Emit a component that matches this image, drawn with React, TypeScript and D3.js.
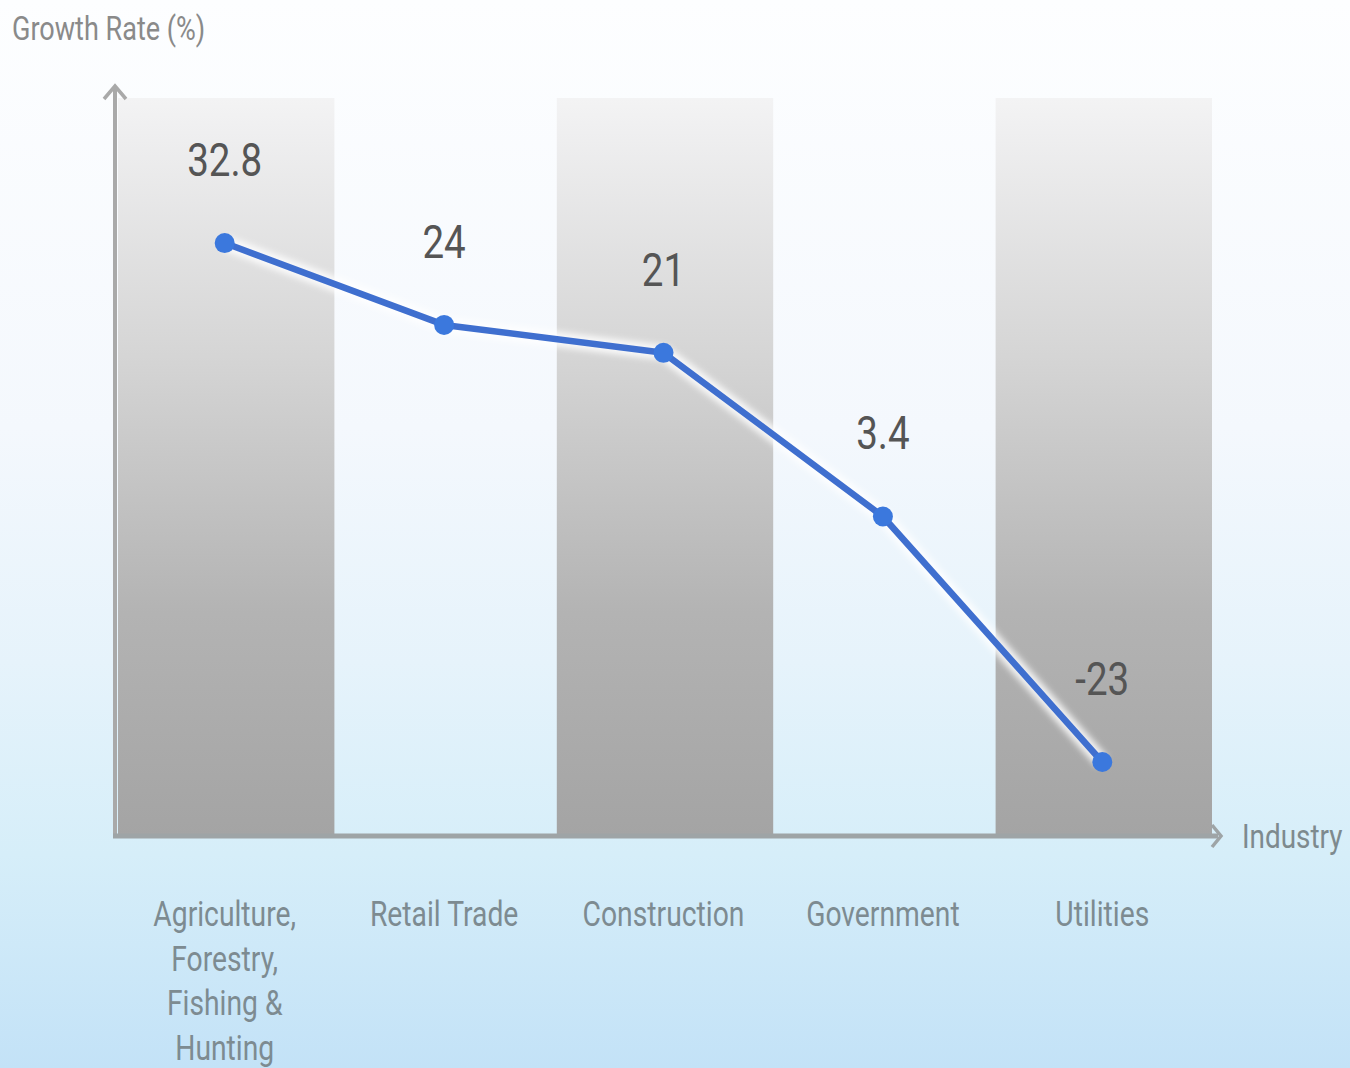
import React from "react";
import * as d3 from "d3";

const categories: string[][] = [
  ["Agriculture,", "Forestry,", "Fishing &", "Hunting"],
  ["Retail Trade"],
  ["Construction"],
  ["Government"],
  ["Utilities"],
];
const growthRates: number[] = [32.8, 24, 21, 3.4, -23];
const valueLabels: string[] = ["32.8", "24", "21", "3.4", "-23"];
const yAxisTitle = "Growth Rate (%)";
const xAxisTitle = "Industry";

const W = 1350;
const H = 1068;
const FONT = "Roboto, 'Liberation Sans', sans-serif";
const SX = 0.82;

function CText(props: {
  x: number;
  y: number;
  size: number;
  fill: string;
  anchor?: "start" | "middle" | "end";
  dy?: string;
  children: React.ReactNode;
}) {
  const { x, y, size, fill, anchor = "start", dy, children } = props;
  return (
    <g transform={`translate(${x},${y}) scale(${SX},1)`}>
      <text
        x={0}
        y={0}
        dy={dy}
        textAnchor={anchor}
        fontFamily={FONT}
        fontSize={size}
        fill={fill}
      >
        {children}
      </text>
    </g>
  );
}

export default function App() {
  const keys = categories.map((c) => c.join(" "));
  const x = d3.scaleBand<string>().domain(keys).range([115, 1212]).padding(0);
  const y = d3.scaleLinear().domain([-30.85, 48.4]).range([835, 98]);
  const bw = x.bandwidth();

  const pts: [number, number][] = growthRates.map((v, i) => [
    (x(keys[i]) as number) + bw / 2,
    y(v),
  ]);
  const line = d3.line<[number, number]>()(pts) as string;
  const [yTop, yBottom] = [y(y.domain()[1]), y(y.domain()[0])];

  return (
    <svg
      width={W}
      height={H}
      style={{ position: "absolute", left: 0, top: 0, display: "block" }}
    >
      <defs>
        <linearGradient id="bg" x1="0" y1="0" x2="0" y2="1">
          <stop offset="0%" stopColor="#fdfeff" />
          <stop offset="40%" stopColor="#f4f8fd" />
          <stop offset="62%" stopColor="#e6f3fb" />
          <stop offset="80%" stopColor="#d6eef9" />
          <stop offset="100%" stopColor="#c3e2f7" />
        </linearGradient>
        <linearGradient id="bar" x1="0" y1="0" x2="0" y2="1">
          <stop offset="0%" stopColor="#f3f3f4" />
          <stop offset="35%" stopColor="#d5d5d5" />
          <stop offset="70%" stopColor="#b3b3b3" />
          <stop offset="100%" stopColor="#a4a4a4" />
        </linearGradient>
        <filter id="glow" x="-10%" y="-10%" width="120%" height="120%">
          <feGaussianBlur stdDeviation="3" />
        </filter>
      </defs>
      <rect x={0} y={0} width={W} height={H} fill="url(#bg)" />

      {/* alternating background columns */}
      {keys.map((k, i) =>
        i % 2 === 0 ? (
          <rect
            key={k}
            x={(x(k) as number) + 3}
            y={yTop}
            width={bw - 3}
            height={yBottom - yTop}
            fill="url(#bar)"
          />
        ) : null
      )}

      {/* axes */}
      <line x1={115} y1={yBottom + 3} x2={115} y2={86} stroke="#a9a9a9" strokeWidth={4} />
      <path d="M104,99 L115,86 L126,99" fill="none" stroke="#a9a9a9" strokeWidth={3.5} />
      <line x1={113} y1={yBottom + 1} x2={1218} y2={yBottom + 1} stroke="#9ea4a6" strokeWidth={5} />
      <path d="M1212,825 L1221,836 L1212,847" fill="none" stroke="#9ea4a6" strokeWidth={3.5} />

      <CText x={12} y={40} size={33} fill="#8a8a8a">
        {yAxisTitle}
      </CText>
      <CText x={1242} y={848} size={34} fill="#7e8a8e">
        {xAxisTitle}
      </CText>

      {/* line */}
      <path d={line} fill="none" stroke="#ffffff" strokeOpacity={0.85} strokeWidth={15} filter="url(#glow)" />
      <path d={line} fill="none" stroke="#3f6fcf" strokeWidth={6.5} strokeLinejoin="round" />
      {pts.map(([px, py], i) => (
        <circle key={i} cx={px} cy={py} r={10} fill="#3b78dd" />
      ))}

      {/* value labels */}
      {pts.map(([px, py], i) => (
        <CText key={i} x={px} y={py - 84} dy="0.36em" anchor="middle" size={47} fill="#555555">
          {valueLabels[i]}
        </CText>
      ))}

      {/* category labels */}
      {categories.map((lines, i) => {
        const cx = (x(keys[i]) as number) + bw / 2;
        return (
          <g key={i}>
            {lines.map((l, j) => (
              <CText key={j} x={cx} y={926 + j * 44.5} anchor="middle" size={34.5} fill="#7d8b91">
                {l}
              </CText>
            ))}
          </g>
        );
      })}
    </svg>
  );
}
